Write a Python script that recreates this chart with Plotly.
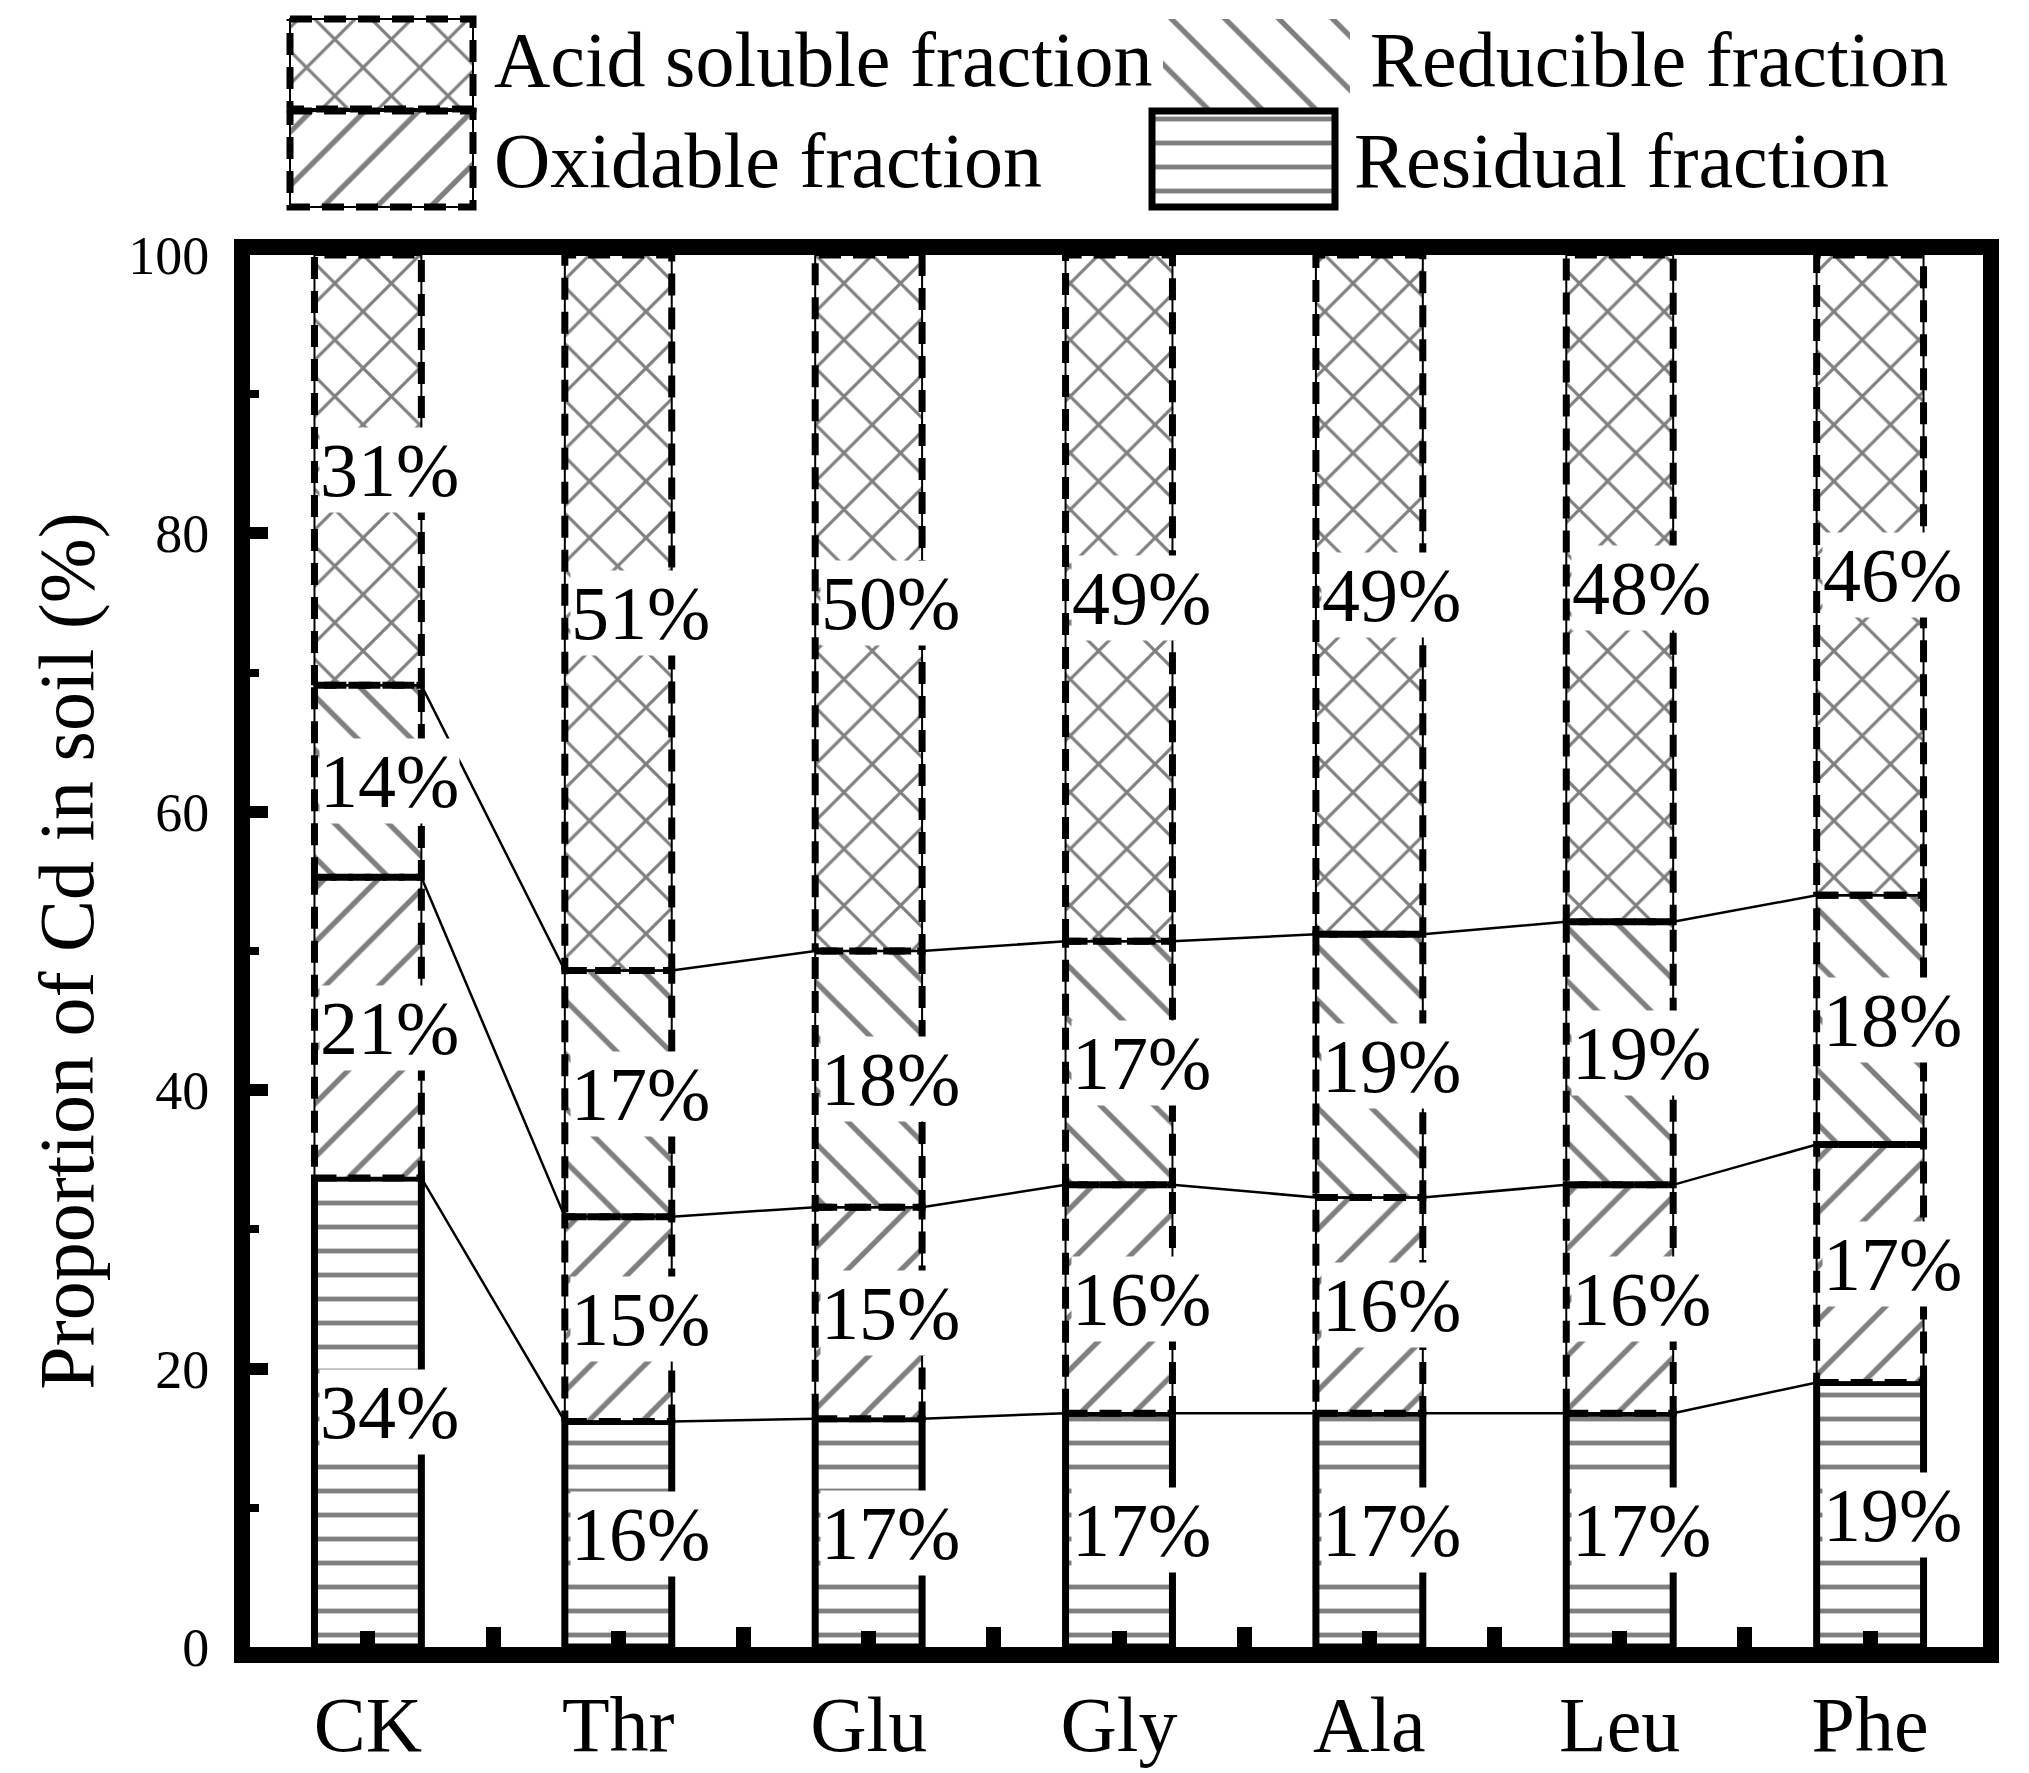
import plotly.graph_objects as go

categories = ["CK", "Thr", "Glu", "Gly", "Ala", "Leu", "Phe"]

# segment heights (%) from bottom to top
residual = [33.7, 16.2, 16.4, 16.8, 16.8, 16.8, 19.0]
oxidable = [21.6, 14.7, 15.2, 16.4, 15.5, 16.4, 17.1]
reducible = [13.8, 17.7, 18.4, 17.5, 18.9, 18.9, 17.9]
acid_soluble = [30.9, 51.4, 50.0, 49.3, 48.8, 47.9, 46.0]

# percentages printed on the bars
residual_text = ["34%", "16%", "17%", "17%", "17%", "17%", "19%"]
oxidable_text = ["21%", "15%", "15%", "16%", "16%", "16%", "17%"]
reducible_text = ["14%", "17%", "18%", "17%", "19%", "19%", "18%"]
acid_text = ["31%", "51%", "50%", "49%", "49%", "48%", "46%"]

y_ticks = [0, 20, 40, 60, 80, 100]

FONT = "Liberation Serif"
BAR_W = 0.427
W, H = 2029, 1773
M_L, M_R, M_T, M_B = 250, 46, 11, 126
PLOT_TOP_PX = 255      # inner top edge of the framed plot area
LEGEND_BOTTOM_PX = 223
AXIS_LW = 16

PATTERNS = {
    "Residual fraction": dict(shape="-", size=24, solidity=0.2),
    "Oxidable fraction": dict(shape="/", size=38, solidity=0.14),
    "Reducible fraction": dict(shape="\\", size=38, solidity=0.14),
    "Acid soluble fraction": dict(shape="x", size=40, solidity=0.15),
}
DASHED = {"Oxidable fraction", "Reducible fraction", "Acid soluble fraction"}
DASH_STYLE = dict(color="black", width=7, dash="22px,12px")

series = [
    ("Residual fraction", residual, residual_text),
    ("Oxidable fraction", oxidable, oxidable_text),
    ("Reducible fraction", reducible, reducible_text),
    ("Acid soluble fraction", acid_soluble, acid_text),
]


def rect_path(left, right, bot, top):
    return [left, right, right, left, left, None], [bot, bot, top, top, bot, None]


x = list(range(len(categories)))
fig = go.Figure()
annotations = []
base = [0.0] * len(categories)
tops = []
dash_x, dash_y = [], []

for name, vals, texts in series:
    fig.add_trace(go.Bar(
        x=x, y=vals, base=base, width=BAR_W, name=name,
        marker=dict(
            color="white",
            line=dict(color="black", width=2 if name in DASHED else 7),
            pattern=dict(fgcolor="black", bgcolor="white", **PATTERNS[name]),
        ),
        hoverinfo="skip",
    ))
    for i in x:
        annotations.append(dict(
            x=i - BAR_W / 2, y=base[i] + vals[i] / 2, xref="x", yref="y",
            text=texts[i], showarrow=False, xanchor="left", yanchor="middle",
            xshift=5, bgcolor="white", borderpad=0, font=dict(size=76),
        ))
        if name in DASHED:
            px_, py_ = rect_path(i - BAR_W / 2, i + BAR_W / 2,
                                 base[i], base[i] + vals[i])
            dash_x += px_
            dash_y += py_
    base = [b + v for b, v in zip(base, vals)]
    tops.append(base)

# heavy dashed outline of the upper three fractions
fig.add_trace(go.Scatter(x=dash_x, y=dash_y, mode="lines", line=DASH_STYLE,
                         hoverinfo="skip"))

# thin lines joining the fraction boundaries from bar to bar
for level in tops[:-1]:
    lx, ly = [], []
    for i in x:
        lx += [i - BAR_W / 2, i + BAR_W / 2]
        ly += [level[i], level[i]]
    fig.add_trace(go.Scatter(
        x=lx, y=ly, mode="lines", line=dict(color="black", width=2.5),
        hoverinfo="skip",
    ))

# legend drawn as big patterned swatches on a pixel-scaled axis pair
legend_items = [
    # name, swatch left, top, width, height, label x, label y (px), border
    ("Acid soluble fraction", 290, 19, 183, 90, 492, 59, 2),
    ("Reducible fraction", 1163, 19, 187, 90, 1368, 59, 0),
    ("Oxidable fraction", 290, 111, 183, 96, 492, 160, 2),
    ("Residual fraction", 1152, 111, 183, 96, 1352, 160, 7),
]
leg_dx, leg_dy = [], []
for name, left, top, sw, sh, lab_x, lab_y, lw in legend_items:
    fig.add_trace(go.Bar(
        x=[left + sw / 2], y=[sh], base=[top], width=[sw],
        xaxis="x2", yaxis="y2",
        marker=dict(
            color="white",
            line=dict(color="black", width=lw),
            pattern=dict(fgcolor="black", bgcolor="white", **PATTERNS[name]),
        ),
        hoverinfo="skip",
    ))
    if name in ("Acid soluble fraction", "Oxidable fraction"):
        px_, py_ = rect_path(left, left + sw, top, top + sh)
        leg_dx += px_
        leg_dy += py_
    annotations.append(dict(
        x=lab_x, y=lab_y, xref="x2", yref="y2", text=name, showarrow=False,
        xanchor="left", yanchor="middle", font=dict(size=78),
    ))
fig.add_trace(go.Scatter(x=leg_dx, y=leg_dy, mode="lines", line=DASH_STYLE,
                         xaxis="x2", yaxis="y2", hoverinfo="skip"))

plot_h = H - M_T - M_B
main_top = (H - M_B - PLOT_TOP_PX) / plot_h
legend_bottom = (H - M_B - LEGEND_BOTTOM_PX) / plot_h

fig.update_layout(
    width=W, height=H,
    margin=dict(l=M_L, r=M_R, t=M_T, b=M_B),
    plot_bgcolor="white", paper_bgcolor="white",
    barmode="overlay",
    showlegend=False,
    font=dict(family=FONT, color="black", size=78),
    annotations=annotations,
    xaxis=dict(
        domain=[0, 1], range=[-0.471, len(categories) - 0.549],
        tickmode="array", tickvals=x, ticktext=categories,
        ticks="inside", ticklen=16, tickwidth=15, tickcolor="black",
        minor=dict(tickmode="array", tickvals=[i + 0.5 for i in x[:-1]],
                   ticks="inside", ticklen=20, tickwidth=15, tickcolor="black"),
        showline=True, linecolor="black", linewidth=AXIS_LW, mirror=True,
        showgrid=False, zeroline=False, automargin=False,
        tickfont=dict(size=78), ticklabelstandoff=-6,
    ),
    yaxis=dict(
        domain=[0, main_top], range=[0, 100],
        tickmode="array", tickvals=y_ticks,
        ticks="inside", ticklen=18, tickwidth=12, tickcolor="black",
        minor=dict(tick0=0, dtick=10, ticks="inside", ticklen=9,
                   tickwidth=8, tickcolor="black"),
        showline=True, linecolor="black", linewidth=AXIS_LW, mirror=True,
        showgrid=False, zeroline=False, automargin=False,
        tickfont=dict(size=54), ticklabelstandoff=14,
        title=dict(text="Proportion of Cd in soil (%)", font=dict(size=78),
                   standoff=16),
    ),
    xaxis2=dict(domain=[0, 1], range=[M_L, W - M_R], visible=False,
                anchor="y2", fixedrange=True, automargin=False),
    yaxis2=dict(domain=[legend_bottom, 1], range=[LEGEND_BOTTOM_PX, M_T],
                visible=False, anchor="x2", fixedrange=True, automargin=False),
)

# drop the browser's default body margin so the figure fills the window
fig.write_html(
    "out.html",
    config={"displayModeBar": False},
    post_script="document.body.style.margin = '0px';",
)
